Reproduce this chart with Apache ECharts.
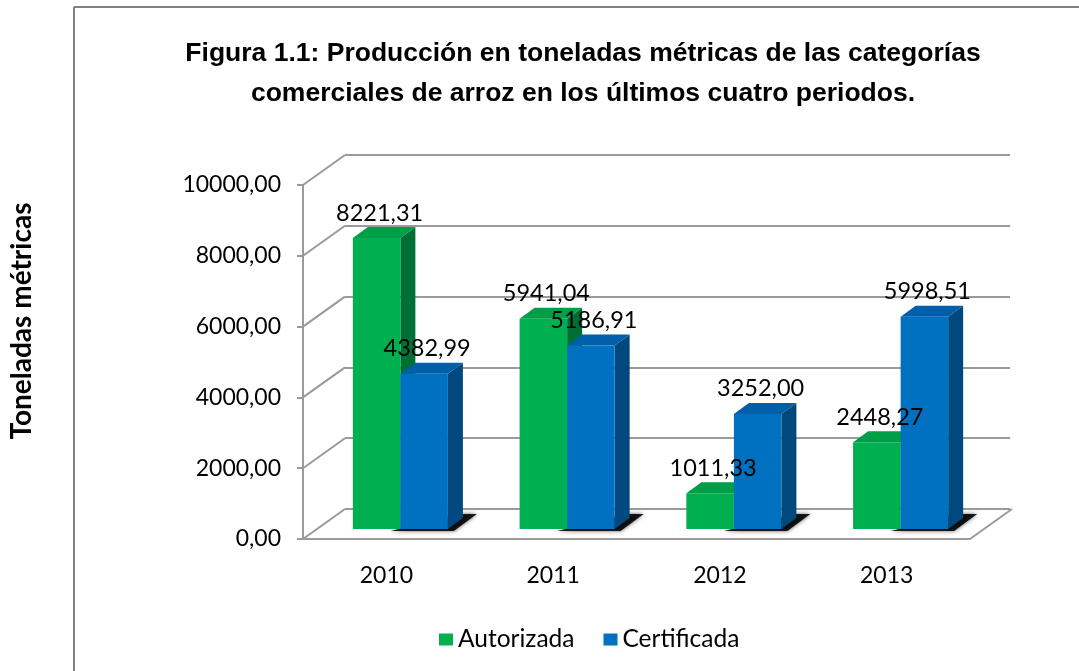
<!DOCTYPE html>
<html>
<head>
<meta charset="utf-8">
<script src="https://cdn.jsdelivr.net/npm/echarts@6/dist/echarts.min.js"></script>
<style>
  html, body { margin: 0; padding: 0; background: #fff; }
  #chart { width: 1079px; height: 671px; }
</style>
</head>
<body>
<div id="chart"></div>
<script>
// datos de la figura
var categories = ['2010', '2011', '2012', '2013'];
var autorizada = [8221.31, 5941.04, 1011.33, 2448.27];
var certificada = [4382.99, 5186.91, 3252.00, 5998.51];
var yTicks = [0, 2000, 4000, 6000, 8000, 10000];

var GRAY = '#9a9a9a';
var WALL_DX = 42, WALL_DY = -30;   // profundidad del piso / pared
var BAR_DX = 14, BAR_DY = -10;     // plano donde estan las barras
var TOP_DX = 15, TOP_DY = -11;     // grosor de cada barra

function fmt(v) {
  return v.toFixed(2).replace('.', ',');
}

// lineas diagonales de la pared izquierda y del piso
function renderWall(params, api) {
  var p = api.coord([0, api.value(1)]);
  var cs = params.coordSys;
  var style = { stroke: GRAY, lineWidth: 2 };
  var children = [{
    type: 'line',
    shape: { x1: cs.x, y1: p[1], x2: cs.x + WALL_DX, y2: p[1] + WALL_DY },
    style: style
  }];
  if (api.value(1) === 0) {
    children.push({
      type: 'line',
      shape: { x1: cs.x + cs.width, y1: p[1], x2: cs.x + cs.width + WALL_DX, y2: p[1] + WALL_DY },
      style: style
    });
  }
  return { type: 'group', children: children };
}

function makeBar(s, front, top, side) {
  return function (params, api) {
    var c = api.value(0), v = api.value(1);
    var band = api.size([1, 0])[0];
    var w = band * 0.285;
    var center = api.coord([c, 0])[0] + BAR_DX;
    var xl = center - w + s * w, xr = xl + w;
    var yb = api.coord([c, 0])[1] + BAR_DY;
    var yt = api.coord([c, v])[1] + BAR_DY;
    var children = [];
    if (s === 1) {
      // sombra en el piso, solo a la derecha del grupo
      children.push({
        type: 'polygon', z2: -1,
        shape: { points: [[xl - 10, yb + 2], [xr + 6, yb + 2], [xr + TOP_DX + 14, yb + TOP_DY - 4], [xr + TOP_DX - 2, yb + TOP_DY - 4]] },
        style: { fill: 'rgba(0,0,0,0.88)', shadowBlur: 4, shadowColor: 'rgba(0,0,0,0.7)' }
      });
    }
    children.push(
      {
        type: 'polygon',
        shape: { points: [[xr, yt], [xr + TOP_DX, yt + TOP_DY], [xr + TOP_DX, yb + TOP_DY], [xr, yb]] },
        style: { fill: side }
      },
      {
        type: 'polygon',
        shape: { points: [[xl, yt], [xr, yt], [xr + TOP_DX, yt + TOP_DY], [xl + TOP_DX, yt + TOP_DY]] },
        style: { fill: top }
      },
      {
        type: 'rect',
        shape: { x: xl, y: yt, width: w, height: yb - yt },
        style: { fill: front }
      },
      {
        type: 'text', z2: 100,
        style: {
          text: fmt(v), x: (xl + xr) / 2 + 3, y: yt - 25,
          align: 'center', verticalAlign: 'middle',
          textAlign: 'center', textVerticalAlign: 'middle',
          font: '23.5px Lato', fill: '#000'
        }
      }
    );
    return { type: 'group', children: children };
  };
}

var myChart = echarts.init(document.getElementById('chart'));

var option = {
  animation: false,
  backgroundColor: '#fff',
  title: {
    text: 'Figura 1.1: Producción en toneladas métricas de las categorías\ncomerciales de arroz en los últimos cuatro periodos.',
    left: 578,
    top: 29,
    textAlign: 'center',
    textStyle: {
      fontFamily: 'Liberation Sans',
      fontWeight: 'bold',
      fontSize: 26.5,
      lineHeight: 40,
      color: '#000'
    }
  },
  legend: {
    data: ['Autorizada', 'Certificada'],
    left: 434,
    top: 622,
    icon: 'rect',
    itemWidth: 14,
    itemHeight: 12,
    itemGap: 29,
    textStyle: { fontFamily: 'Lato', fontSize: 24.5, color: '#000' }
  },
  graphic: [
    { type: 'line', shape: { x1: 74, y1: 7, x2: 74, y2: 671 }, style: { stroke: '#808080', lineWidth: 2 } },
    { type: 'line', shape: { x1: 74, y1: 7, x2: 1079, y2: 7 }, style: { stroke: '#808080', lineWidth: 2 } },
    {
      type: 'text', x: 22, y: 321, rotation: Math.PI / 2,
      style: {
        text: 'Toneladas métricas', align: 'center', verticalAlign: 'middle',
        textAlign: 'center', textVerticalAlign: 'middle',
        font: 'bold 28px Lato', fill: '#000'
      }
    }
  ],
  grid: [
    { left: 303, top: 185, width: 667, height: 354 },   // plano frontal
    { left: 345, top: 155, width: 665, height: 354 }    // pared del fondo
  ],
  xAxis: [
    {
      gridIndex: 0, type: 'category', data: categories,
      axisLine: { lineStyle: { color: GRAY, width: 2 } },
      axisTick: { length: 7, lineStyle: { color: GRAY, width: 2 } },
      axisLabel: { margin: 25, fontFamily: 'Lato', fontSize: 23, color: '#000' }
    },
    {
      gridIndex: 1, type: 'category', data: categories, show: false
    }
  ],
  yAxis: [
    {
      gridIndex: 0, type: 'value', min: 0, max: 10000, interval: 2000,
      axisLine: { show: true, lineStyle: { color: GRAY, width: 2 } },
      axisTick: { show: true, length: 6, lineStyle: { color: GRAY, width: 2 } },
      splitLine: { show: false },
      axisLabel: { margin: 22, fontFamily: 'Lato', fontSize: 23, color: '#000', formatter: fmt }
    },
    {
      gridIndex: 1, type: 'value', min: 0, max: 10000, interval: 2000,
      axisLine: { show: false }, axisTick: { show: false }, axisLabel: { show: false },
      splitLine: { show: true, lineStyle: { color: GRAY, width: 2 } }
    }
  ],
  series: [
    {
      name: 'pared', type: 'custom', xAxisIndex: 0, yAxisIndex: 0, z: 1,
      renderItem: renderWall, silent: true,
      data: yTicks.map(function (v) { return [0, v]; })
    },
    {
      name: 'Autorizada', type: 'custom', xAxisIndex: 0, yAxisIndex: 0, z: 3,
      itemStyle: { color: '#00B050' },
      renderItem: makeBar(0, '#00B050', '#009E47', '#006F33'),
      encode: { x: 0, y: 1 },
      data: autorizada.map(function (v, i) { return [i, v]; })
    },
    {
      name: 'Certificada', type: 'custom', xAxisIndex: 0, yAxisIndex: 0, z: 3,
      itemStyle: { color: '#0070C0' },
      renderItem: makeBar(1, '#0070C0', '#005FAA', '#00487E'),
      encode: { x: 0, y: 1 },
      data: certificada.map(function (v, i) { return [i, v]; })
    }
  ]
};

myChart.setOption(option);
</script>
</body>
</html>
